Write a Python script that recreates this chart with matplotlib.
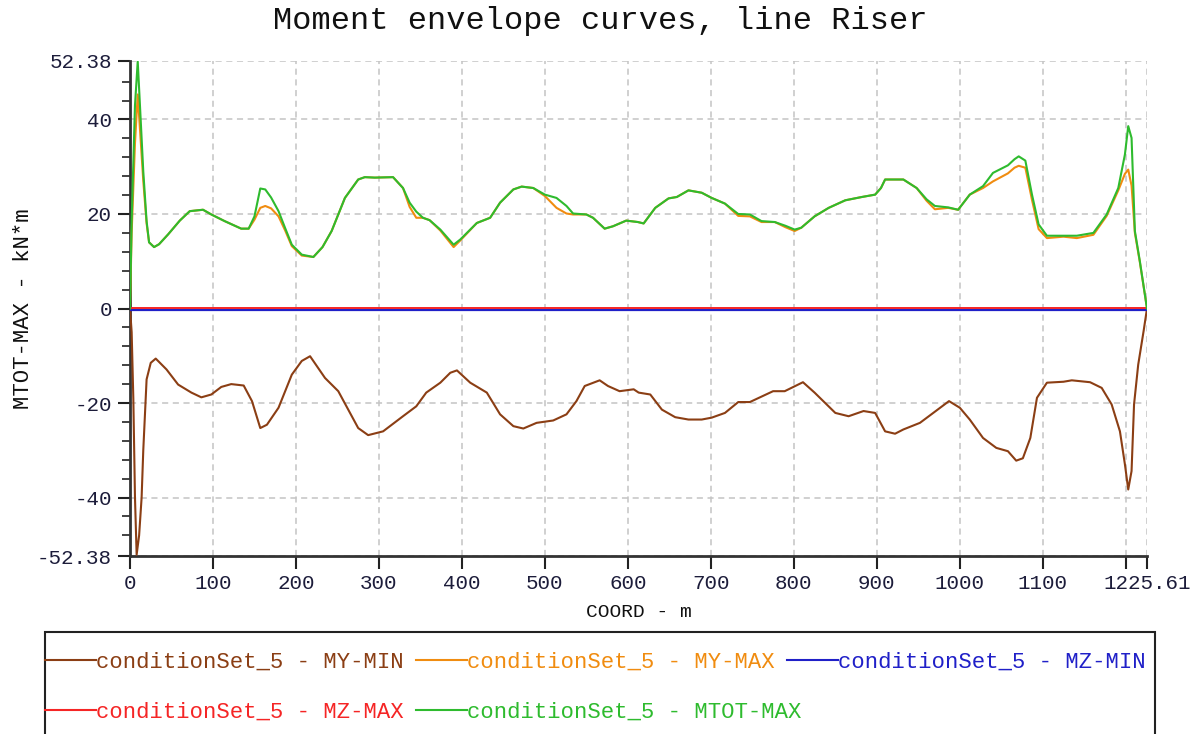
import matplotlib
matplotlib.use("Agg")
import matplotlib.pyplot as plt
import matplotlib.transforms as mtransforms
from matplotlib.patches import Rectangle
from matplotlib.lines import Line2D

FONT = "Liberation Mono"

# ---------------- data ----------------
x_max_curve = [0, 2, 6, 9.3, 12, 16, 20, 23, 29, 35, 46, 60, 72, 88, 98, 114, 134, 143,
               150, 157, 163, 170, 179, 187, 195, 207, 221, 232, 243, 259, 275, 283, 295,
               317, 329, 337, 345, 353, 361, 374, 390, 398, 418, 434, 446, 462, 472, 486,
               500, 514, 526, 534, 550, 558, 572, 582, 598, 612, 619, 633, 649, 659, 673,
               689, 701, 717, 733, 747, 761, 777, 790, 801, 809, 825, 842, 862, 882, 898,
               905, 910, 932, 948, 960, 970, 986, 998, 1012, 1028, 1040, 1058, 1066, 1071,
               1079, 1087, 1095, 1105, 1125, 1141, 1161, 1177, 1191, 1199, 1203, 1207,
               1211, 1217, 1225.61]

mtot_max = [0, 18.5, 43, 52.3, 43, 29, 18.5, 14, 13.0, 13.6, 15.7, 18.6, 20.6, 20.9, 19.9,
            18.5, 16.9, 16.9, 19.5, 25.4, 25.2, 23.5, 20.6, 17, 13.5, 11.4, 10.9, 13, 16.4,
            23.4, 27.3, 27.8, 27.7, 27.8, 25.5, 22.4, 20.5, 19.2, 18.7, 16.7, 13.5, 14.6,
            18.1, 19.2, 22.4, 25.2, 25.8, 25.5, 24.1, 23.4, 21.7, 20.1, 19.9, 19.2, 16.9,
            17.4, 18.6, 18.3, 18.0, 21.3, 23.3, 23.6, 25.0, 24.5, 23.4, 22.2, 20.0, 19.9,
            18.5, 18.3, 17.5, 16.7, 17.1, 19.5, 21.3, 22.9, 23.6, 24.1, 25.5, 27.3, 27.3,
            25.5, 23.1, 21.7, 21.4, 20.9, 24.1, 25.9, 28.7, 30.3, 31.6, 32.2, 31.3, 24.1,
            17.8, 15.4, 15.4, 15.4, 16.0, 19.9, 25.5, 32.6, 38.6, 36.1, 16.4, 10.0, 0]

my_max = [0, 16, 35, 45.3, 38, 27, 18, 14, 13.0, 13.6, 15.7, 18.6, 20.6, 20.9, 19.9,
          18.5, 16.9, 16.9, 18.8, 21.3, 21.7, 21.2, 19.5, 16.5, 13.2, 11.2, 10.9, 13, 16.4,
          23.4, 27.3, 27.8, 27.7, 27.8, 25.5, 21.5, 19.2, 19.2, 18.7, 16.5, 13.0, 14.4,
          18.1, 19.2, 22.4, 25.2, 25.8, 25.5, 23.8, 21.3, 20.1, 19.9, 19.9, 19.2, 16.9,
          17.4, 18.6, 18.3, 18.0, 21.3, 23.3, 23.6, 25.0, 24.5, 23.4, 22.2, 19.6, 19.5,
          18.3, 18.3, 17.2, 16.4, 17.1, 19.5, 21.3, 22.9, 23.6, 24.1, 25.5, 27.3, 27.3,
          25.5, 22.8, 21.0, 21.3, 20.9, 24.1, 25.5, 26.9, 28.6, 29.8, 30.2, 29.8, 23.0,
          16.8, 14.9, 15.2, 14.9, 15.6, 19.6, 25.0, 28.5, 29.4, 26.0, 16.0, 9.8, 0]

x_min_curve = [0, 2, 4, 6, 8, 11, 14, 16, 20, 25, 31, 44, 58, 74, 86, 98, 110, 122, 137,
               147, 157, 165, 179, 195, 207, 217, 235, 251, 275, 287, 305, 329, 345, 357,
               374, 386, 394, 410, 430, 446, 462, 474, 490, 510, 526, 538, 548, 566, 576,
               590, 607, 613, 627, 641, 657, 673, 689, 701, 717, 733, 747, 775, 789, 811,
               825, 850, 866, 884, 898, 910, 922, 932, 952, 968, 987, 1000, 1012, 1028,
               1044, 1058, 1068, 1076, 1085, 1093, 1105, 1125, 1135, 1157, 1171, 1183,
               1193, 1199, 1203, 1207, 1210, 1215, 1221.5, 1225.61]

my_min = [0, -5, -19, -40, -52.1, -48, -40, -30, -15, -11.5, -10.6, -12.9, -16.1, -17.8,
          -18.8, -18.2, -16.6, -16.0, -16.3, -19.6, -25.3, -24.6, -21.0, -14.0, -11.1,
          -10.1, -14.7, -17.5, -25.3, -26.8, -26.0, -22.8, -20.7, -17.8, -15.7, -13.6,
          -13.1, -15.7, -17.8, -22.4, -24.9, -25.4, -24.2, -23.7, -22.4, -19.6, -16.4,
          -15.2, -16.4, -17.5, -17.1, -17.8, -18.2, -21.4, -23.0, -23.5, -23.5, -23.1,
          -22.1, -19.8, -19.8, -17.5, -17.5, -15.6, -17.8, -22.1, -22.8, -21.7, -22.1,
          -26.0, -26.5, -25.6, -24.2, -22.1, -19.6, -21.0, -23.5, -27.4, -29.5, -30.2,
          -32.2, -31.7, -27.4, -18.9, -15.7, -15.5, -15.2, -15.6, -16.8, -20.3, -26.0,
          -33.0, -38.3, -34.4, -20.3, -11.9, -4.8, 0]

x_zero = [0, 1225.61]
mz_min = [0, 0]
mz_max = [0, 0]

x_ticks = [0, 100, 200, 300, 400, 500, 600, 700, 800, 900, 1000, 1100, 1200, 1225.61]
x_tick_labels = ["0", "100", "200", "300", "400", "500", "600", "700", "800", "900",
                 "1000", "1100", "", "1225.61"]
y_ticks = [-52.38, -40, -20, 0, 20, 40, 52.38]
y_tick_labels = ["-52.38", "-40", "-20", "0", "20", "40", "52.38"]
y_minor = [-48, -44, -36, -32, -28, -24, -16, -12, -8, -4, 4, 8, 12, 16, 24, 28, 32, 36, 44, 48]

labels = ["conditionSet_5 - MY-MIN", "conditionSet_5 - MY-MAX", "conditionSet_5 - MZ-MIN",
          "conditionSet_5 - MZ-MAX", "conditionSet_5 - MTOT-MAX"]
colors = ["#8B3E14", "#F08C10", "#2020C8", "#F52525", "#2EBB2E"]

# ---------------- figure ----------------
W, H = 1202, 734
fig = plt.figure(figsize=(W / 100, H / 100), dpi=100)
ax = fig.add_axes([130 / W, 1 - 556 / H, (1147 - 130) / W, (556 - 61) / H])

ax.plot(x_min_curve, my_min, color=colors[0], lw=1.5, zorder=3)
ax.plot(x_max_curve, my_max, color=colors[1], lw=1.5, zorder=3)
off_dn = mtransforms.offset_copy(ax.transData, fig=fig, x=0, y=-0.8, units="points")
off_up = mtransforms.offset_copy(ax.transData, fig=fig, x=0, y=0.5, units="points")
ax.plot(x_zero, mz_min, color=colors[2], lw=1.6, zorder=4, transform=off_dn)
ax.plot(x_zero, mz_max, color=colors[3], lw=1.4, zorder=4, transform=off_up)
ax.plot(x_max_curve, mtot_max, color=colors[4], lw=1.5, zorder=5)

ax.set_xlim(0, 1225.61)
ax.set_ylim(-52.38, 52.38)
ax.set_xticks(x_ticks)
ax.set_xticklabels(x_tick_labels)
ax.set_yticks(y_ticks)
ax.set_yticklabels(y_tick_labels)
ax.set_yticks(y_minor, minor=True)

for lab in ax.get_xticklabels() + ax.get_yticklabels():
    lab.set_fontfamily(FONT)
    lab.set_fontsize(15)
    lab.set_color("#1c1c3a")

ax.tick_params(axis="both", which="major", length=9, width=1.5, color="#222222", pad=4)
ax.tick_params(axis="y", which="minor", length=6, width=1.2, color="#222222")

ax.grid(True, which="major", color="#c4c4c4", linestyle=(0, (4, 3)), lw=1.1)
ax.set_axisbelow(True)
for s in ["top", "right"]:
    ax.spines[s].set_visible(False)
for s in ["left", "bottom"]:
    ax.spines[s].set_linewidth(2)
    ax.spines[s].set_color("#333333")

ax.set_xlabel("COORD - m", fontfamily=FONT, fontsize=14, color="#111111", labelpad=8)
ax.set_ylabel("MTOT-MAX - kN*m", fontfamily=FONT, fontsize=16, color="#111111", labelpad=2)
fig.text(600 / W, 1 - 21 / H, "Moment envelope curves, line Riser", fontfamily=FONT,
         fontsize=23, ha="center", va="center", color="#111111")

# legend frame
fig.patches.append(Rectangle((45 / W, -0.02), (1155 - 45) / W, (1 - 632 / H) + 0.02,
                             transform=fig.transFigure, fill=False, edgecolor="#222222",
                             lw=1.5, zorder=1))

leg_kw = dict(loc="upper left", frameon=False, prop={"family": FONT, "size": 16},
              handlelength=2.3, handletextpad=0.0, columnspacing=0.55,
              borderpad=0.0, borderaxespad=0.0)
rows = [([0, 1, 2], 652), ([3, 4], 702)]
for idx, ytop in rows:
    handles = [Line2D([], [], color=colors[i], lw=1.5) for i in idx]
    leg = fig.legend(handles, [labels[i] for i in idx], ncol=len(idx),
                     bbox_to_anchor=(45 / W, 1 - ytop / H), **leg_kw)
    for t, i in zip(leg.get_texts(), idx):
        t.set_color(colors[i])

fig.savefig("out.png", dpi=100)
